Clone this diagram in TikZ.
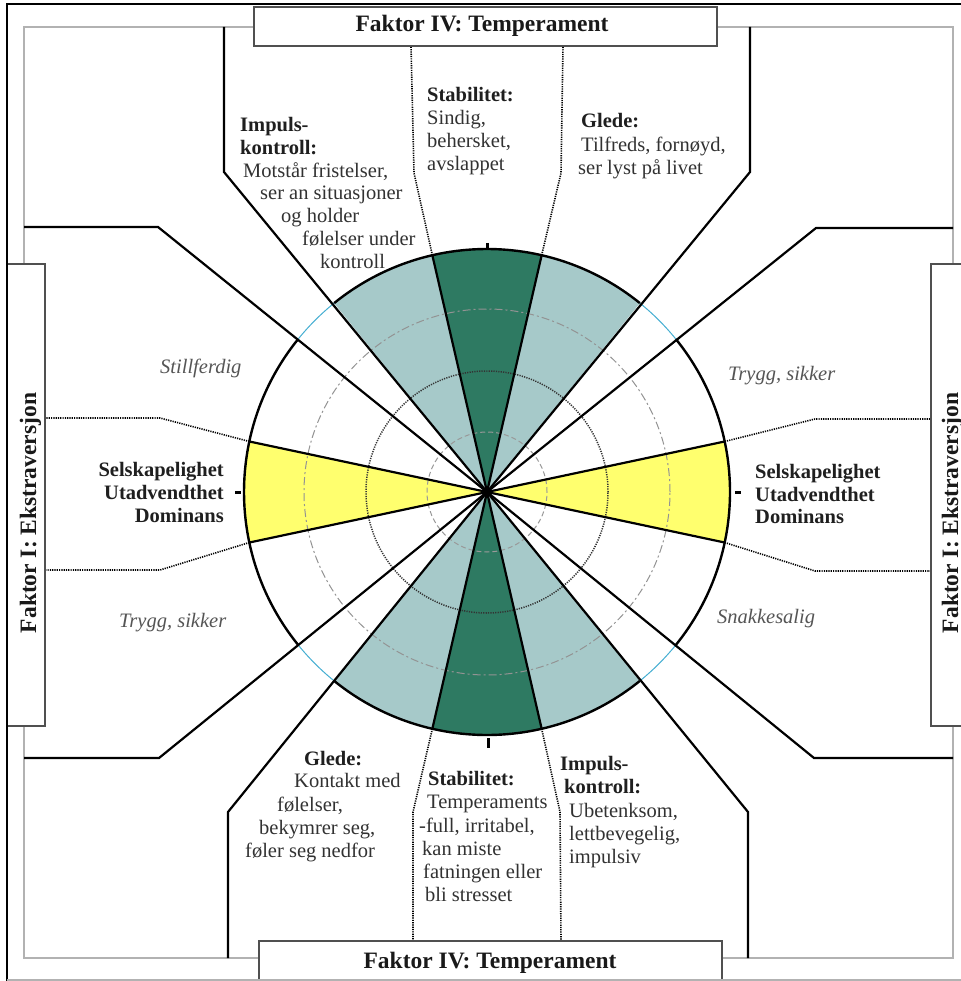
\documentclass[tikz,border=0pt]{standalone}
\usepackage{fontspec}
\setmainfont{Liberation Serif}
\usetikzlibrary{calc}

\definecolor{deepgreen}{RGB}{46,122,98}
\definecolor{paleteal}{RGB}{166,201,201}
\definecolor{sunyellow}{RGB}{255,255,110}
\definecolor{framegray}{RGB}{178,178,178}
\definecolor{boxgray}{RGB}{80,80,80}
\definecolor{rimcyan}{RGB}{70,175,210}
\definecolor{bodygray}{RGB}{50,50,50}
\definecolor{moodgray}{RGB}{85,85,85}

\begin{document}
\begin{tikzpicture}[x=1pt,y=-1pt,
  bodytxt/.style={inner sep=0pt, anchor=base west, text=bodygray,
    font=\fontsize{20.5}{23}\selectfont},
  headtxt/.style={bodytxt, text=black!88, font=\fontsize{20.5}{23}\selectfont\bfseries},
  moodtxt/.style={inner sep=0pt, anchor=base west, text=moodgray,
    font=\fontsize{20.5}{23}\selectfont\itshape},
  titletxt/.style={inner sep=0pt, anchor=base, text=black!90,
    font=\fontsize{23.5}{26}\selectfont\bfseries},
  spoke/.style={black, line width=2.2pt, line join=miter},
  dotline/.style={black, line width=1.6pt, dash pattern=on 1.2pt off 1.1pt},
  boxline/.style={draw=boxgray, line width=1.6pt, fill=white},
  rim/.style={black, line width=2.4pt},
  gap/.style={rimcyan, line width=1pt}
]
\useasboundingbox (0,0) rectangle (960,981);
\fill[white] (0,0) rectangle (960,981);

\coordinate (C) at (487,492);

% ---------- the circular chart ----------
\begin{scope}[shift={(C)}, yscale=-1]
  \def\R{243}
  % coloured sectors
  \fill[sunyellow] (0,0) -- (-12:\R) arc[start angle=-12, end angle=12, radius=\R] -- cycle;
  \fill[sunyellow] (0,0) -- (168:\R) arc[start angle=168, end angle=192, radius=\R] -- cycle;
  \fill[deepgreen] (0,0) -- (77:\R) arc[start angle=77, end angle=103, radius=\R] -- cycle;
  \fill[deepgreen] (0,0) -- (257:\R) arc[start angle=257, end angle=283, radius=\R] -- cycle;
  \fill[paleteal] (0,0) -- (51:\R) arc[start angle=51, end angle=77, radius=\R] -- cycle;
  \fill[paleteal] (0,0) -- (103:\R) arc[start angle=103, end angle=129, radius=\R] -- cycle;
  \fill[paleteal] (0,0) -- (231:\R) arc[start angle=231, end angle=257, radius=\R] -- cycle;
  \fill[paleteal] (0,0) -- (283:\R) arc[start angle=283, end angle=309, radius=\R] -- cycle;
  % scale rings
  \draw[gray!80, line width=1pt, dash pattern=on 5pt off 3pt] (0,0) circle[radius=60];
  \draw[black!80, line width=1.5pt, dash pattern=on 1.2pt off 1.2pt] (0,0) circle[radius=121];
  \draw[gray!85, line width=1pt, dash pattern=on 8pt off 3pt on 2pt off 3pt] (0,0) circle[radius=183];
  % spokes that end on the rim
  \foreach \a in {12,-12,168,192,77,103,257,283}
    \draw[spoke] (0,0) -- (\a:\R);
  % rim: black over the sectors, thin cyan in the narrow gaps
  \draw[rim] (-39:\R) arc[start angle=-39, end angle=39, radius=\R];
  \draw[rim] (51:\R) arc[start angle=51, end angle=129, radius=\R];
  \draw[rim] (141:\R) arc[start angle=141, end angle=219, radius=\R];
  \draw[rim] (231:\R) arc[start angle=231, end angle=309, radius=\R];
  \draw[gap] (39:\R) arc[start angle=39, end angle=51, radius=\R];
  \draw[gap] (129:\R) arc[start angle=129, end angle=141, radius=\R];
  \draw[gap] (219:\R) arc[start angle=219, end angle=231, radius=\R];
  \draw[gap] (309:\R) arc[start angle=309, end angle=321, radius=\R];
  % rim points where the dotted leaders start
  \coordinate (yRt) at (12:\R);
  \coordinate (yRb) at (-12:\R);
  \coordinate (yLt) at (168:\R);
  \coordinate (yLb) at (192:\R);
  \coordinate (gTr) at (77:\R);
  \coordinate (gTl) at (103:\R);
  \coordinate (gBl) at (257:\R);
  \coordinate (gBr) at (283:\R);
\end{scope}

% ticks on the rim
\draw[black, line width=3pt] (487,243) -- (487,249);
\draw[black, line width=3pt] (488,738) -- (488,748);
\draw[black, line width=3pt] (235,492) -- (241,492);
\draw[black, line width=3pt] (735,492) -- (741,492);

% ---------- frame ----------
\draw[framegray, line width=1.5pt] (24,27) rectangle (953,958);

% ---------- spokes running out to the frame ----------
\coordinate (bTL) at (224,172);  \coordinate (eTL) at (224,27);
\coordinate (bTR) at (750,172);  \coordinate (eTR) at (750,27);
\coordinate (bBL) at (228,812);  \coordinate (eBL) at (228,958);
\coordinate (bBR) at (748,812);  \coordinate (eBR) at (748,958);
\draw[spoke] (C) -- (bTL) -- (eTL);
\draw[spoke] (C) -- (bTR) -- (eTR);
\draw[spoke] (C) -- (bBL) -- (eBL);
\draw[spoke] (C) -- (bBR) -- (eBR);

\coordinate (hTL) at (158,227);  \coordinate (fTL) at (24,227);
\coordinate (hTR) at (816,228);  \coordinate (fTR) at (953,228);
\coordinate (hBL) at (159,758);  \coordinate (fBL) at (24,758);
\coordinate (hBR) at (814,758);  \coordinate (fBR) at (953,758);
\draw[spoke] (C) -- (hTL) -- (fTL);
\draw[spoke] (C) -- (hTR) -- (fTR);
\draw[spoke] (C) -- (hBL) -- (fBL);
\draw[spoke] (C) -- (hBR) -- (fBR);

% ---------- dotted leaders ----------
\draw[dotline] (gTl) -- (414,173) -- (411,46);
\draw[dotline] (gTr) -- (561,173) -- (563,46);
\draw[dotline] (gBl) -- (413,812) -- (413,941);
\draw[dotline] (gBr) -- (560,812) -- (561,941);
\draw[dotline] (yLt) -- (160,418) -- (45,418);
\draw[dotline] (yLb) -- (160,570) -- (45,570);
\draw[dotline] (yRt) -- (815,419) -- (931,419);
\draw[dotline] (yRb) -- (815,571) -- (931,571);

% centre
\fill[black] (C) circle[radius=4];

% ---------- factor boxes ----------
\draw[boxline] (254,7) rectangle (717,46);
\draw[boxline] (259,941) rectangle (722,995);
\draw[boxline] (7,264) rectangle (45,726);
\draw[boxline] (931,264) rectangle (975,726);
\node[titletxt] (titleTop) at (482,32) {Faktor IV: Temperament};
\node[titletxt] (titleBot) at (490,968) {Faktor IV: Temperament};
\node[titletxt, rotate=90] (titleLeft) at (36,513) {Faktor I: Ekstraversjon};
\node[titletxt, rotate=90] (titleRight) at (958,513) {Faktor I: Ekstraversjon};

% outer border
\draw[black, line width=2.5pt] (7,995) -- (7,4) -- (975,4);
\draw[framegray, line width=1.5pt] (7,980) -- (975,980);

% ---------- upper texts ----------
\node[headtxt] (ikT1) at (240,132) {Impuls-};
\node[headtxt] (ikT2) at (240,155) {kontroll:};
\node[bodytxt] (ikT3) at (243,178) {Motstår fristelser,};
\node[bodytxt] (ikT4) at (260,200) {ser an situasjoner};
\node[bodytxt] (ikT5) at (281,223) {og holder};
\node[bodytxt] (ikT6) at (302,246) {følelser under};
\node[bodytxt] (ikT7) at (320,269) {kontroll};

\node[headtxt] (stT1) at (427,102) {Stabilitet:};
\node[bodytxt] (stT2) at (427,125) {Sindig,};
\node[bodytxt] (stT3) at (427,148) {behersket,};
\node[bodytxt] (stT4) at (427,171) {avslappet};

\node[headtxt] (glT1) at (581,128) {Glede:};
\node[bodytxt] (glT2) at (581,152) {Tilfreds, fornøyd,};
\node[bodytxt] (glT3) at (578,175) {ser lyst på livet};

% ---------- side texts ----------
\node[moodtxt] (moodTL) at (160,373) {Stillferdig};
\node[moodtxt] (moodBL) at (119,627) {Trygg, sikker};
\node[moodtxt] (moodTR) at (728,380) {Trygg, sikker};
\node[moodtxt] (moodBR) at (717,623) {Snakkesalig};

\node[headtxt, anchor=base east] (exL1) at (224,476) {Selskapelighet};
\node[headtxt, anchor=base east] (exL2) at (224,499) {Utadvendthet};
\node[headtxt, anchor=base east] (exL3) at (224,522) {Dominans};
\node[headtxt] (exR1) at (755,478) {Selskapelighet};
\node[headtxt] (exR2) at (755,501) {Utadvendthet};
\node[headtxt] (exR3) at (755,523) {Dominans};

% ---------- lower texts ----------
\node[headtxt] (glB1) at (304,765) {Glede:};
\node[bodytxt] (glB2) at (294,787) {Kontakt med};
\node[bodytxt] (glB3) at (277,811) {følelser,};
\node[bodytxt] (glB4) at (259,834) {bekymrer seg,};
\node[bodytxt] (glB5) at (245,857) {føler seg nedfor};

\node[headtxt] (stB1) at (428,785) {Stabilitet:};
\node[bodytxt] (stB2) at (427,808) {Temperaments};
\node[bodytxt] (stB3) at (419,832) {-full, irritabel,};
\node[bodytxt] (stB4) at (422,855) {kan miste};
\node[bodytxt] (stB5) at (423,878) {fatningen eller};
\node[bodytxt] (stB6) at (425,901) {bli stresset};

\node[headtxt] (ikB1) at (560,770) {Impuls-};
\node[headtxt] (ikB2) at (564,793) {kontroll:};
\node[bodytxt] (ikB3) at (569,817) {Ubetenksom,};
\node[bodytxt] (ikB4) at (569,840) {lettbevegelig,};
\node[bodytxt] (ikB5) at (569,863) {impulsiv};
\end{tikzpicture}
\end{document}
